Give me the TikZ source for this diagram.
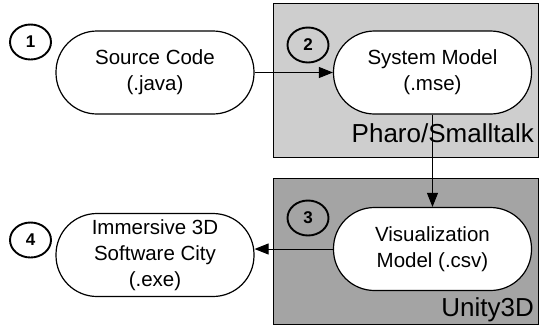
\documentclass[tikz,border=0pt]{standalone}
\usepackage{fontspec}
\setmainfont{Liberation Sans}
\usetikzlibrary{arrows.meta,shapes.geometric}
\begin{document}
\begin{tikzpicture}[x=1pt,y=-1pt,
  stage/.style={draw=black,line width=1.2pt,fill=white,rounded corners=41pt,
    minimum width=198pt,minimum height=83pt,align=center,inner sep=0pt,
    font=\fontsize{20.5}{26}\selectfont},
  badge/.style={draw=black,line width=1.9pt,ellipse,minimum width=41pt,minimum height=35pt,
    inner sep=0pt,font=\fontsize{17}{17}\selectfont\bfseries},
  platform/.style={draw=black,line width=0.8pt},
  platlabel/.style={anchor=base east,inner sep=0pt,font=\fontsize{26}{26}\selectfont},
  flow/.style={draw=black,line width=1pt,-{Triangle[length=14pt,width=11pt]}}]
\useasboundingbox (0,0) rectangle (539,333);
\fill[white] (0,0) rectangle (539,333);
\draw[platform,fill={rgb,255:red,206;green,206;blue,206}] (273.5,3) rectangle (538,157);
\draw[platform,fill={rgb,255:red,164;green,164;blue,164}] (273.5,178) rectangle (538,324);
\node[platlabel] (pharo) at (534,142) {Pharo/Smalltalk};
\node[platlabel] (unity) at (534,316) {Unity3D};
\node[stage] (src) at (155,72.5) {Source Code\\(.java)};
\node[stage] (sys) at (432.5,72.5) {System Model\\(.mse)};
\node[stage] (vis) at (432.5,249) {Visualization\\Model (.csv)};
\node[stage] (city) at (155,255) {Immersive 3D\\Software City\\(.exe)};
\node[badge] (b1) at (30.5,42) {1};
\node[badge] (b2) at (308,45) {2};
\node[badge] (b3) at (308,218) {3};
\node[badge] (b4) at (30.5,240) {4};
\draw[flow] (src.east) -- (sys.west);
\draw[flow] (sys.south) -- (vis.north);
\draw[flow] (vis.west) -- (vis.west -| city.east);
\end{tikzpicture}
\end{document}
